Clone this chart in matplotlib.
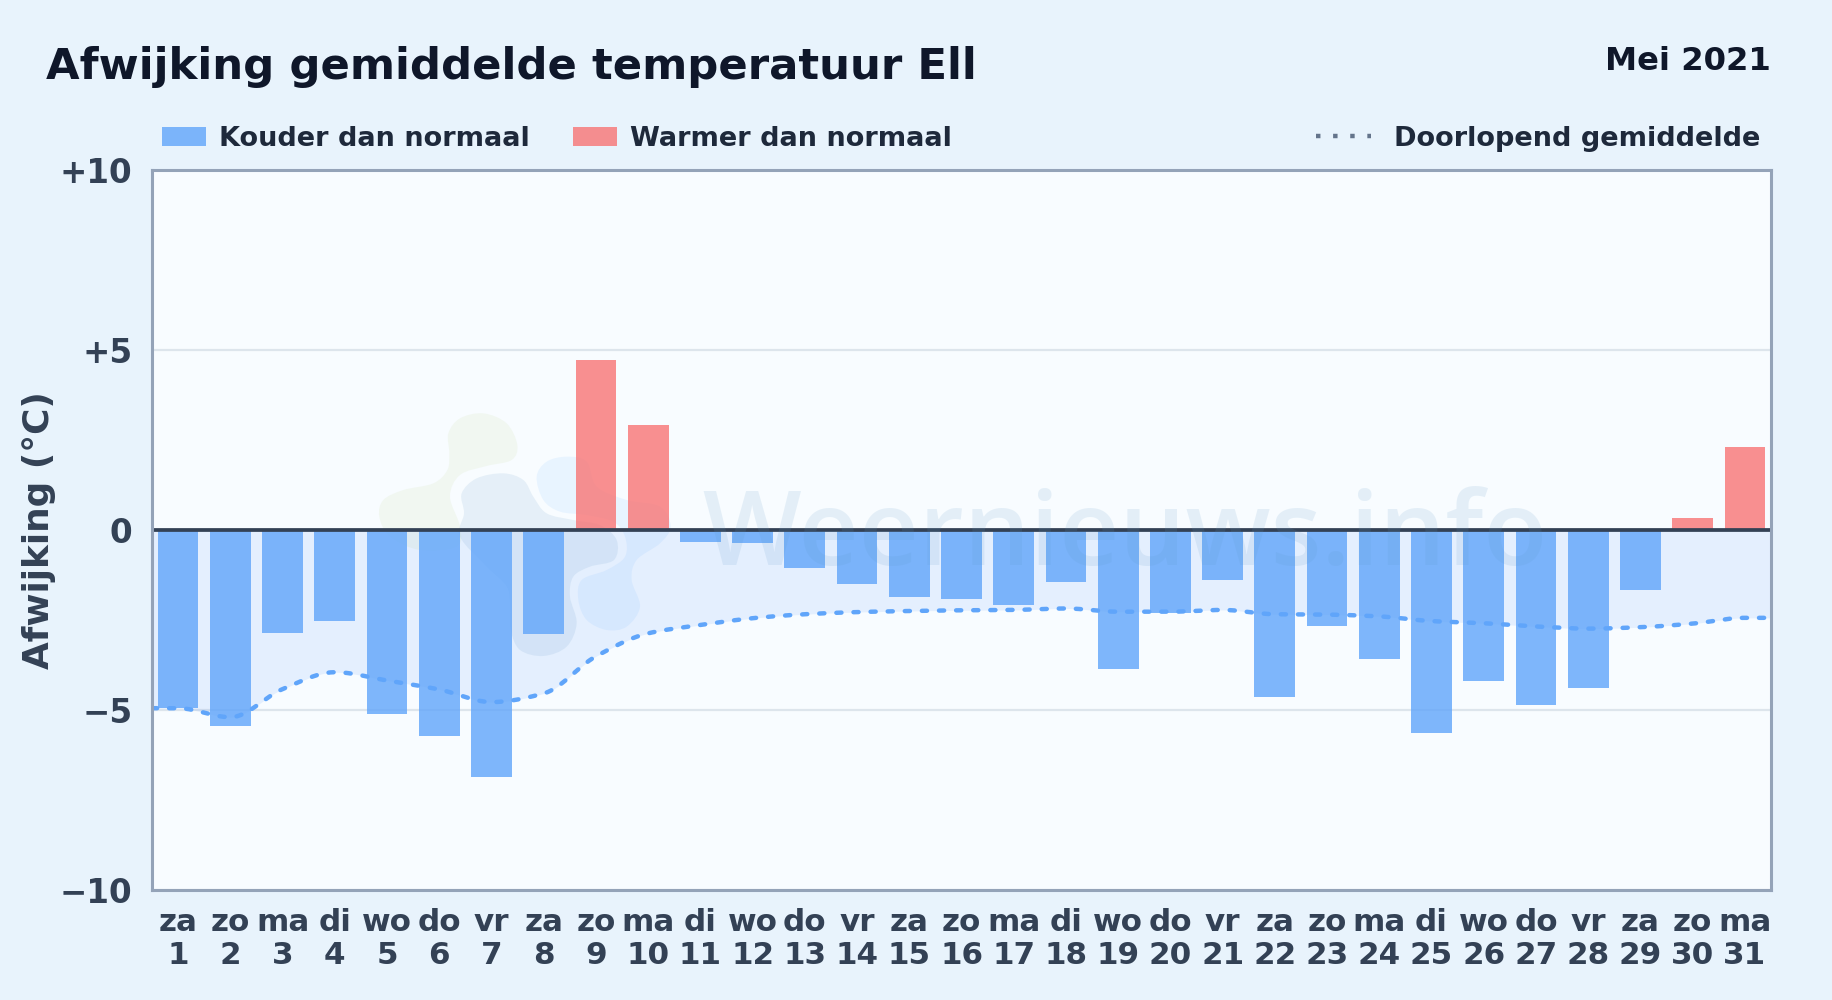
import numpy as np
import matplotlib
matplotlib.use("Agg")
import matplotlib.pyplot as plt
from matplotlib.lines import Line2D
from matplotlib.patches import Patch, PathPatch
from matplotlib.path import Path
from matplotlib.transforms import Affine2D

W, H = 1832, 1000
days = list(range(1, 32))
weekdays = ["za","zo","ma","di","wo","do","vr","za","zo","ma","di","wo","do","vr","za","zo",
            "ma","di","wo","do","vr","za","zo","ma","di","wo","do","vr","za","zo","ma"]
deviation = [-4.95,-5.44,-2.87,-2.54,-5.10,-5.71,-6.85,-2.88,4.72,2.92,-0.32,-0.35,-1.05,-1.49,-1.85,-1.91,
             -2.07,-1.44,-3.87,-2.30,-1.38,-4.65,-2.67,-3.58,-5.63,-4.19,-4.85,-4.38,-1.66,0.33,2.30]
running_mean = [-4.95,-5.20,-4.42,-3.95,-4.18,-4.43,-4.78,-4.54,-3.51,-2.87,-2.64,-2.45,-2.34,-2.28,-2.25,-2.23,
                -2.22,-2.18,-2.27,-2.27,-2.22,-2.34,-2.35,-2.40,-2.53,-2.59,-2.68,-2.74,-2.70,-2.60,-2.44]
y_ticks = [-10, -5, 0, 5, 10]
y_tick_labels = ["\u221210", "\u22125", "0", "+5", "+10"]

BG = "#e8f3fc"
PLOT_BG = "#f8fcff"
BLUE = "#60a5fa"
RED = "#f87171"
INK = "#0f172a"
LEG = "#1e293b"
TICK = "#334155"

plt.rcParams["font.family"] = ["DejaVu Sans"]
plt.rcParams["font.weight"] = "bold"

fig = plt.figure(figsize=(W / 100, H / 100), dpi=100, facecolor=BG)
L, R, T, B = 152, 1771, 170, 890
ax = fig.add_axes([L / W, 1 - B / H, (R - L) / W, (B - T) / H], facecolor=PLOT_BG)
ax.set_xlim(0.5, 31.5)
ax.set_ylim(-10, 10)

# pixel transform (origin top-left) for watermark shapes
px = Affine2D().scale(1, -1).translate(0, H)


def blob(points):
    """Closed smooth outline through watermark points."""
    p = np.array(points, float)
    p = np.column_stack([360 + p[:, 0] / 3, 390 + p[:, 1] / 3])
    n = len(p)
    verts, codes = [p[0]], [Path.MOVETO]
    for i in range(n):
        p0, p1, p2, p3 = p[i - 1], p[i], p[(i + 1) % n], p[(i + 2) % n]
        verts += [p1 + (p2 - p0) / 6, p2 - (p3 - p1) / 6, p2]
        codes += [Path.CURVE4] * 3
    return Path(verts, codes)


green = [(265,130),(300,85),(370,70),(440,100),(472,165),(455,210),(380,228),(300,255),(270,320),(300,410),
         (290,470),(180,480),(90,440),(58,380),(70,330),(130,300),(220,280),(262,240),(268,190)]
grey = [(305,310),(350,265),(430,250),(490,270),(520,320),(560,370),(640,390),(720,405),(770,450),(762,510),
        (690,530),(640,560),(630,620),(650,700),(620,770),(550,798),(480,780),(452,720),(450,650),(440,590),
        (380,530),(300,440),(312,370)]
blue_b = [(530,260),(560,215),(620,200),(680,215),(710,290),(800,330),(900,350),(932,410),(900,460),(830,510),
          (815,570),(840,650),(800,710),(740,720),(680,690),(655,630),(665,570),(740,540),(795,500),(795,440),
          (760,395),(680,375),(600,365),(550,330)]
for pts, col, a in [(green, "#dfeccf", 0.28), (grey, "#b5d0e6", 0.28), (blue_b, "#bfe0ff", 0.28)]:
    ax.add_patch(PathPatch(blob(pts), facecolor=col, edgecolor="none", alpha=a,
                           transform=px, zorder=0.5, clip_on=True))
fig.text(702 / W, 1 - 565 / H, "Weernieuws.info", family="Open Sans", weight=600, fontsize=75.2,
         color="#5b97c8", alpha=0.13, ha="left", va="baseline", zorder=0.6)
ax.patch.set_zorder(0)

ax.set_axisbelow(True)
ax.grid(axis="y", color="#dde5ec", lw=1.6)
ax.grid(axis="x", visible=False)

x = np.array(days, float)
dev = np.array(deviation)
ax.bar(x[dev < 0], dev[dev < 0], width=0.78, color=BLUE, alpha=0.8, linewidth=0, zorder=3)
ax.bar(x[dev >= 0], dev[dev >= 0], width=0.78, color=RED, alpha=0.78, linewidth=0, zorder=3)

# monotone cubic through the running mean, running out to the plot edges
xk = np.concatenate([[0.5], x, [31.5]])
yk = np.concatenate([[running_mean[0]], running_mean, [running_mean[-1]]])
h = np.diff(xk)
s = np.diff(yk) / h
m = np.zeros_like(yk)
m[0], m[-1] = s[0], s[-1]
for i in range(1, len(yk) - 1):
    if s[i - 1] * s[i] > 0:
        w1, w2 = 2 * h[i] + h[i - 1], h[i] + 2 * h[i - 1]
        m[i] = (w1 + w2) / (w1 / s[i - 1] + w2 / s[i])
xs, ys = [], []
for i in range(len(h)):
    t = np.linspace(0, 1, 24, endpoint=False)
    xs.append(xk[i] + t * h[i])
    ys.append((2*t**3 - 3*t**2 + 1) * yk[i] + (t**3 - 2*t**2 + t) * h[i] * m[i]
              + (-2*t**3 + 3*t**2) * yk[i + 1] + (t**3 - t**2) * h[i] * m[i + 1])
xs = np.concatenate(xs + [[xk[-1]]])
ys = np.concatenate(ys + [[yk[-1]]])
ax.fill_between(xs, ys, 0, color="#3b82f6", alpha=0.10, linewidth=0, zorder=2)
ax.plot(xs, ys, color="#60a5fa", lw=3.2, linestyle=(0, (1.15, 2.7)), dash_capstyle="round", zorder=4)
ax.axhline(0, color=TICK, lw=2.7, zorder=5)

for sp in ax.spines.values():
    sp.set_color("#94a3b8")
    sp.set_linewidth(2.2)
    sp.set_zorder(6)

ax.set_yticks(y_ticks, y_tick_labels)
ax.set_xticks(days, [f"{d}\n{n}" for d, n in zip(weekdays, days)])
ax.tick_params(axis="both", length=0, labelcolor=TICK)
ax.tick_params(axis="y", pad=14, labelsize=23.5)
ax.tick_params(axis="x", pad=13, labelsize=22.3)
for lab in ax.get_xticklabels():
    lab.set_linespacing(1.15)
fig.text(39.5 / W, 1 - 530 / H, "Afwijking (\u00b0C)", rotation=90, ha="center", va="center",
         fontsize=25.8, color=TICK)

fig.text(46 / W, 1 - 79 / H, "Afwijking gemiddelde temperatuur Ell", fontsize=31.2, color=INK,
         ha="left", va="baseline")
fig.text(1771 / W, 1 - 70 / H, "Mei 2021", fontsize=23.2, color=INK, ha="right", va="baseline")

h1 = [Patch(facecolor=BLUE, alpha=0.8, linewidth=0, label="Kouder dan normaal"),
      Patch(facecolor=RED, alpha=0.78, linewidth=0, label="Warmer dan normaal")]
leg1 = fig.legend(handles=h1, loc="center left", bbox_to_anchor=(162 / W, 1 - 138.5 / H), ncol=2, frameon=False,
                  fontsize=19.5, borderpad=0, borderaxespad=0, handlelength=1.62, handleheight=0.7,
                  handletextpad=0.5, columnspacing=1.58, labelcolor=LEG)
h2 = [Line2D([], [], color="#64748b", lw=3.2, linestyle=(0, (1, 2.85)), dash_capstyle="butt",
             label="Doorlopend gemiddelde")]
leg2 = fig.legend(handles=h2, loc="center right", bbox_to_anchor=(1760 / W, 1 - 138.5 / H), frameon=False,
                  fontsize=19.5, borderpad=0, borderaxespad=0, handlelength=2.0, handletextpad=0.85, labelcolor=LEG)

fig.savefig("out.png", dpi=100, facecolor=BG)
